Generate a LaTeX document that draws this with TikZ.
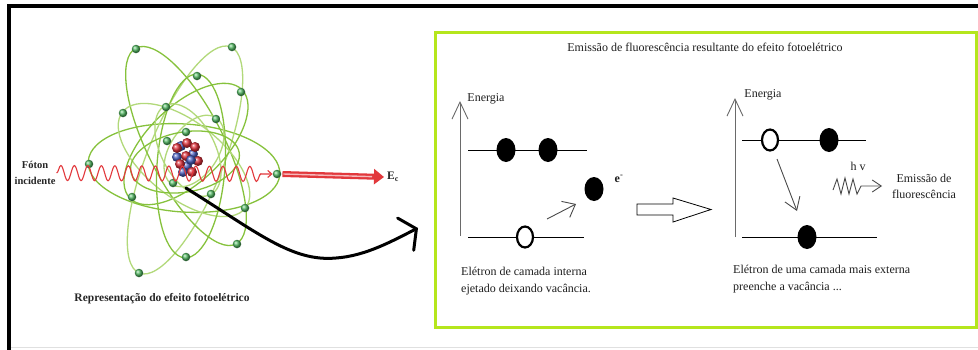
\documentclass[tikz,border=0pt]{standalone}
\usepackage{fontspec}
\setmainfont{Liberation Serif}
\usetikzlibrary{arrows.meta,shapes.geometric,decorations.pathmorphing}

\definecolor{frameGreen}{HTML}{B5E61D}
\definecolor{orbitA}{HTML}{86C23C}
\definecolor{orbitB}{HTML}{B2D97A}
\definecolor{photonRed}{HTML}{E2383C}
\definecolor{axisGray}{HTML}{6A6A6A}
\definecolor{electronGreen}{HTML}{52B862}
\definecolor{protonRed}{HTML}{E0303A}
\definecolor{neutronBlue}{HTML}{4A5FC0}

\begin{document}
\begin{tikzpicture}[x=1bp,y=-1bp,
  orbit/.style={line width=1.3bp},
  eball/.style={circle, inner sep=0, minimum size=8.5bp, shading=ball, ball color=electronGreen},
  nball/.style={circle, inner sep=0, minimum size=10bp, shading=ball},
  photon/.style={photonRed, line width=1.1bp,
    decorate, decoration={snake, segment length=13.5bp, amplitude=7.5bp, post length=9bp},
    -{Straight Barb[length=4bp,width=7bp]}},
  ecbar/.style={photonRed, line width=6bp, -{Triangle[length=10bp,width=15bp]}},
  bigcurve/.style={black, line width=3bp, line cap=round, line join=round,
    -{Straight Barb[length=12bp,width=36bp,line cap=round]}},
  axis/.style={axisGray, line width=0.9bp, -{Straight Barb[length=17bp,width=16bp]}},
  level/.style={black, line width=0.9bp},
  thinarrow/.style={axisGray!70!black, line width=0.9bp, -{Straight Barb[length=11bp,width=18bp]}},
  elec/.style={ellipse, fill=black, inner sep=0, minimum width=19bp, minimum height=24bp},
  hole/.style={ellipse, draw=black, line width=2.2bp, fill=white, inner sep=0, minimum width=16bp, minimum height=21bp},
  txt/.style={inner sep=0, font=\fontsize{12bp}{16.5bp}\selectfont, text=black!88},
  boldtxt/.style={inner sep=1bp, font=\fontsize{11.5bp}{16bp}\selectfont\bfseries, text=black!85},
  blockarrow/.style={draw=black, line width=0.8bp, fill=white, line join=miter}
]
\useasboundingbox (0,0) rectangle (978,349);
\fill[white] (0,0) rectangle (978,349);

% outer frame (left and top edges), faint bottom rule
\draw[black, line width=3.2bp] (9,350) -- (9,6) -- (979,6);
\draw[black!12, line width=1bp] (11,347.5) -- (978,347.5);

% ---------------- atom ----------------
\foreach \cx/\cy/\a/\b/\ang/\col in {
   184/168/96/44/-4/orbitA,
   185/160/122/38/-112/orbitB,
   186/146/110/38/-63/orbitA,
   186/144/78/38/-136/orbitA,
   184/160/78/38/-38/orbitB,
   191/166/92/34/-94/orbitA,
   188/150/50/27/-63/orbitB,
   194/151/40/24/-124/orbitB,
   185/162/55/30/10/orbitA}
  \draw[orbit, \col, rotate around={\ang:(\cx,\cy)}] (\cx,\cy) ellipse [x radius=\a, y radius=\b];

% nucleus
\foreach \x/\y [count=\i] in {181/146, 177/157, 193/154, 187/166, 183/172}
  \node[nball, ball color=neutronBlue] (nb\i) at (\x,\y) {};
\foreach \x/\y [count=\i] in {177/148, 187/143, 195/147, 198/161, 192/172, 180/164, 186/156}
  \node[nball, ball color=protonRed] (nr\i) at (\x,\y) {};
\node[nball, ball color=neutronBlue] (nb6) at (191,160) {};

% electrons on the orbits
\foreach \x/\y [count=\i] in {136/49, 232/47, 197/76, 241/92, 123/113, 166/107, 216/119,
    186/132, 167/141, 89/164, 173/183, 211/194, 132/197, 245/208, 237/244, 186/257, 139/273}
  \node[eball] (ae\i) at (\x,\y) {};
\node[eball] (eOut) at (277,174) {};

% incident photon and ejected electron
\node[boldtxt, font=\fontsize{10.5bp}{16bp}\selectfont\bfseries, align=center] (foton) at (35,173) {Fóton\\incidente};
\draw[photon] (foton.east) -- (eOut.west);
\node[boldtxt, anchor=west] (ec) at (386,177) {E\raisebox{-0.35ex}{\fontsize{8bp}{9bp}\selectfont c}};
\draw[ecbar] ([xshift=1bp]eOut.east) -- ([xshift=-2bp]ec.west);
\draw[white!65!photonRed, line width=1.4bp, shorten >=12bp] ([xshift=2bp]eOut.east) -- ([xshift=-2bp]ec.west);

\node[boldtxt] (atomcap) at (162,299) {Representação do efeito fotoelétrico};

% curved pointer to the panel
\coordinate (curveStart) at (186,188);
\coordinate (curveEnd) at (418,228);
\draw[bigcurve] (curveStart) .. controls (258,233) and (292,262) .. (336,258)
  .. controls (366,256) and (394,240) .. (curveEnd);

% ---------------- fluorescence panel ----------------
\draw[frameGreen, line width=3bp] (435.5,32) rectangle (976,327.5);
\node[txt] (title) at (705,47) {Emissão de fluorescência resultante do efeito fotoelétrico};

% left level scheme
\coordinate (axL0) at (460,236);
\coordinate (axL1) at (460,101);
\draw[axis] (axL0) -- (axL1);
\node[txt] (enL) at (486,99) {Energia};
\coordinate (upL0) at (468,150);
\coordinate (upL1) at (587,150);
\draw[level] (upL0) -- (upL1);
\coordinate (loL0) at (468,237);
\coordinate (loL1) at (584,237);
\draw[level] (loL0) -- (loL1);
\node[elec] (eL1) at (506,150) {};
\node[elec] (eL2) at (548,150) {};
\node[hole] (hL) at (525,237) {};
\node[elec] (eEj) at (594,189) {};
\node[txt, font=\fontsize{12bp}{14bp}\selectfont\bfseries] (eLab) at (619,179) {e\textsuperscript{-}};
\coordinate (ejA) at (547,219);
\coordinate (ejB) at (576,204);
\draw[thinarrow] (ejA) -- (ejB);
\node[txt, anchor=west, align=left] (capL) at (461,281) {Elétron de camada interna\\ejetado deixando vacância.};

% hollow block arrow between the two schemes
\draw[blockarrow] (637,204) -- (673,204) -- (673,198) -- (711,209.5) -- (673,222) -- (673,215) -- (637,215) -- cycle;

% right level scheme
\coordinate (axR0) at (735,237);
\coordinate (axR1) at (735,98);
\draw[axis] (axR0) -- (axR1);
\node[txt] (enR) at (763,95) {Energia};
\coordinate (upR0) at (742,140);
\coordinate (upR1) at (866,140);
\draw[level] (upR0) -- (upR1);
\coordinate (loR0) at (742,237);
\coordinate (loR1) at (877,237);
\draw[level] (loR0) -- (loR1);
\node[hole] (hR) at (770,140) {};
\node[elec] (eR1) at (829,140) {};
\node[elec] (eR2) at (807,237) {};
\coordinate (dropA) at (777,159);
\coordinate (dropB) at (797,211);
\draw[thinarrow, -{Straight Barb[length=12bp,width=16bp]}] (dropA) -- (dropB);

% emitted photon
\node[txt] (hv) at (858,166) {h v};
\coordinate (zzEnd) at (882,186);
\draw[axisGray!70!black, line width=0.9bp, -{Straight Barb[length=9bp,width=12bp]}]
  (833,190) -- (837,179) -- (841,194) -- (845,178) -- (849,194) -- (853,179) -- (857,194) -- (861,186) -- (zzEnd);
\node[txt, align=center] (emis) at (924,186.5) {Emissão de\\fluorescência};

\node[txt, anchor=west, align=left] (capR) at (733,279) {Elétron de uma camada mais externa\\preenche a vacância ...};
\end{tikzpicture}
\end{document}
